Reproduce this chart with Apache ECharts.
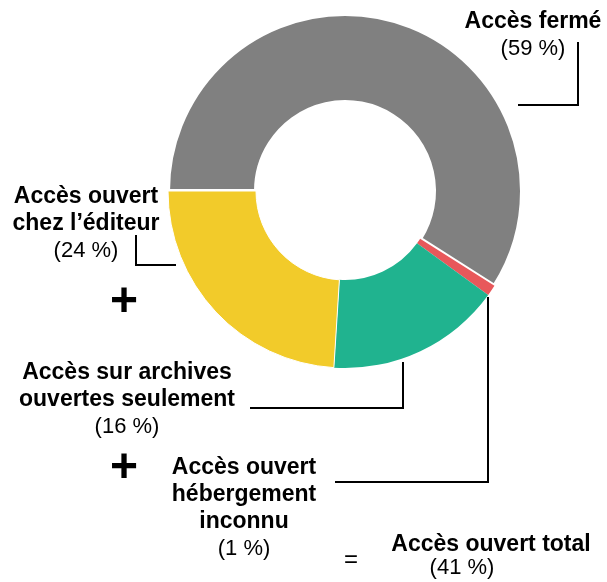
<!DOCTYPE html>
<html><head><meta charset="utf-8">
<script src="https://cdn.jsdelivr.net/npm/echarts@6/dist/echarts.min.js"></script>
<style>html,body{margin:0;padding:0;background:#fff}#c{width:607px;height:582px}</style>
</head><body><div id="c"></div>
<script>
const categories = ["Accès fermé", "Accès ouvert\nhébergement\ninconnu", "Accès sur archives\nouvertes seulement", "Accès ouvert\nchez l’éditeur"];
const values = [59, 1, 16, 24];
const colors = ["#808080", "#E8585B", "#20B38F", "#F2CB2A"];
const openIdx = [1, 2, 3];
const totalLabel = "Accès ouvert total";

// annotation layout (label block centre + elbow connector points)
const labelPos = [
  {x: 533, y: 35, pts: [[518,105],[578,105],[578,42]]},
  {x: 244, y: 508, pts: [[488,297],[488,482],[335,482]]},
  {x: 127, y: 400, pts: [[403,362],[403,408],[250,408]]},
  {x: 86, y: 224, pts: [[176,265],[136,265],[136,235]]}
];

const FONT = '"Liberation Sans", Arial, sans-serif';
const openTotal = openIdx.reduce((s, i) => s + values[i], 0);

const chart = echarts.init(document.getElementById('c'), null, {renderer: 'canvas'});
chart.setOption({
  animation: false,
  series: [{
    type: 'pie',
    center: [345, 191],
    radius: [89, 177],
    startAngle: 180,
    clockwise: true,
    avoidLabelOverlap: false,
    data: categories.map((c, i) => ({
      name: c, value: values[i],
      itemStyle: {color: colors[i], borderColor: '#fff', borderWidth: i === 0 ? 4 : (i === 3 ? 1 : 0)}
    })),
    label: {
      show: true,
      align: 'center',
      verticalAlign: 'middle',
      formatter: p => p.name.split('\n').map(l => '{b|' + l + '}').join('\n') + '\n{p|(' + p.value + ' %)}',
      rich: {
        b: {fontFamily: FONT, fontWeight: 'bold', fontSize: 23, color: '#000', lineHeight: 27, align: 'center'},
        p: {fontFamily: FONT, fontSize: 22, color: '#000', lineHeight: 27, align: 'center'}
      }
    },
    labelLine: {show: true, lineStyle: {color: '#000', width: 2}},
    labelLayout: p => {
      const L = labelPos[p.dataIndex];
      return {x: L.x, y: L.y, align: 'center', verticalAlign: 'middle', labelLinePoints: L.pts};
    },
    emphasis: {disabled: true}
  }],
  graphic: [
    {type: 'text', left: 110, top: 279, style: {text: '+', fontFamily: FONT, fontWeight: 'bold', fontSize: 48, fill: '#000'}},
    {type: 'text', left: 110, top: 445, style: {text: '+', fontFamily: FONT, fontWeight: 'bold', fontSize: 48, fill: '#000'}},
    {type: 'text', left: 344, top: 548, style: {text: '=', fontFamily: FONT, fontSize: 24, fill: '#000'}},
    {type: 'text', x: 491, y: 545, style: {text: totalLabel, align: 'center', verticalAlign: 'middle', fontFamily: FONT, fontWeight: 'bold', fontSize: 23, fill: '#000'}},
    {type: 'text', x: 462, y: 568, style: {text: '(' + openTotal + ' %)', align: 'center', verticalAlign: 'middle', fontFamily: FONT, fontSize: 22, fill: '#000'}}
  ]
});
</script></body></html>
